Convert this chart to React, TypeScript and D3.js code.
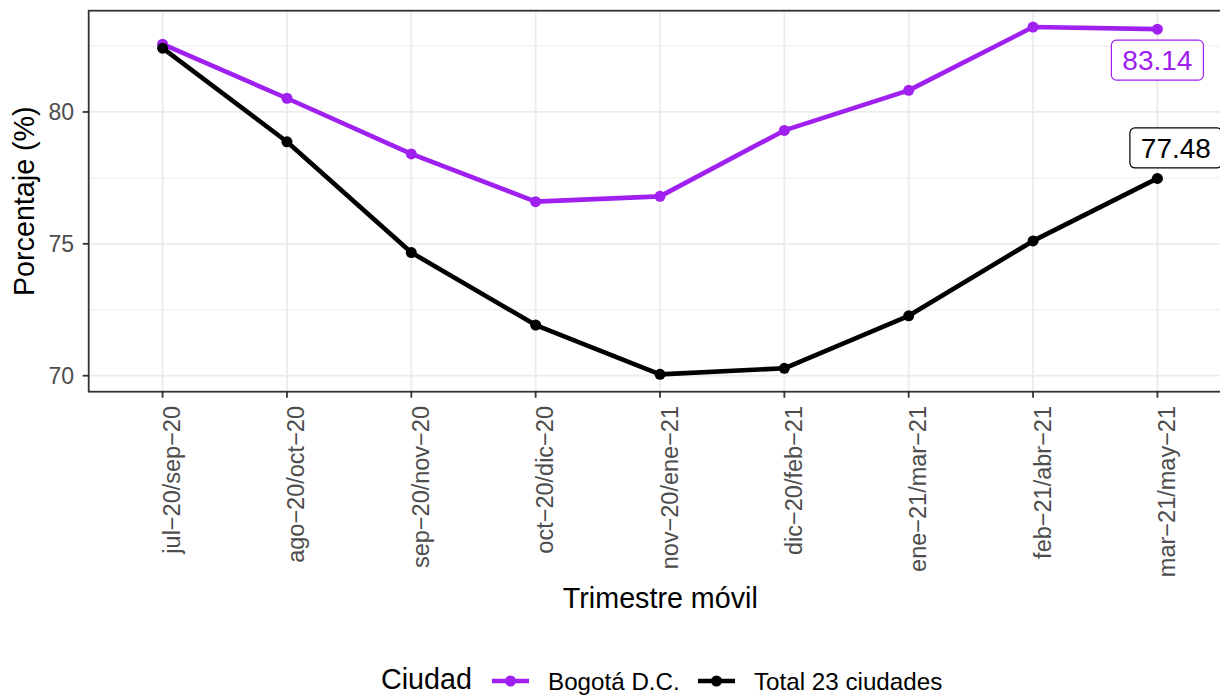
import React from "react";
import * as d3 from "d3";

// trimestres móviles (eje x)
const periods = [
  "jul−20/sep−20",
  "ago−20/oct−20",
  "sep−20/nov−20",
  "oct−20/dic−20",
  "nov−20/ene−21",
  "dic−20/feb−21",
  "ene−21/mar−21",
  "feb−21/abr−21",
  "mar−21/may−21",
];

const bogotaValues = [82.57, 80.52, 78.41, 76.6, 76.8, 79.3, 80.82, 83.22, 83.14];
const totalValues = [82.42, 78.87, 74.67, 71.92, 70.05, 70.28, 72.27, 75.11, 77.48];

const yTicks = [70, 75, 80];
const yMinorTicks = [72.5, 77.5, 82.5];

const series = [
  { name: "Bogotá D.C.", color: "#A020F0", values: bogotaValues, labelDy: 31, labelDx: 0 },
  { name: "Total 23 ciudades", color: "#000000", values: totalValues, labelDy: -30.5, labelDx: 18.5 },
];

const W = 1220;
const H = 695;
const panel = { left: 88.7, right: 1232, top: 10.7, bottom: 391.7 };
const font = "'Liberation Sans', Arial, Helvetica, sans-serif";

const App = () => {
  const x = d3
    .scalePoint<string>()
    .domain(periods)
    .range([162.6, 1157.4]);
  const y = d3.scaleLinear().domain([69.393, 83.84]).range([panel.bottom, panel.top]);

  const line = d3
    .line<number>()
    .x((_, i) => x(periods[i])!)
    .y((d) => y(d));

  const last = periods.length - 1;

  return (
    <svg
      width={W}
      height={H}
      style={{ position: "absolute", left: 0, top: 0, fontFamily: font }}
    >
      <rect width={W} height={H} fill="#fff" />

      {/* minor grid */}
      {yMinorTicks.map((t) => (
        <line key={"mn" + t} x1={panel.left} x2={panel.right} y1={y(t)} y2={y(t)} stroke="#EBEBEB" strokeWidth={1} />
      ))}
      {/* major grid */}
      {yTicks.map((t) => (
        <line key={"mj" + t} x1={panel.left} x2={panel.right} y1={y(t)} y2={y(t)} stroke="#EBEBEB" strokeWidth={1.8} />
      ))}
      {periods.map((p) => (
        <line key={"vg" + p} x1={x(p)} x2={x(p)} y1={panel.top} y2={panel.bottom} stroke="#EBEBEB" strokeWidth={1.8} />
      ))}

      {/* series */}
      {series.map((s) => (
        <g key={s.name}>
          <path d={line(s.values)!} fill="none" stroke={s.color} strokeWidth={4.6} strokeLinejoin="round" />
          {s.values.map((v, i) => (
            <circle key={i} cx={x(periods[i])} cy={y(v)} r={5.5} fill={s.color} />
          ))}
        </g>
      ))}

      {/* last-value labels */}
      {series.map((s) => {
        const v = s.values[last];
        const cx = x(periods[last])! + s.labelDx;
        const cy = y(v) + s.labelDy;
        const bw = 92;
        const bh = 40;
        return (
          <g key={"lab" + s.name}>
            <rect
              x={cx - bw / 2}
              y={cy - bh / 2}
              width={bw}
              height={bh}
              rx={5}
              fill="#fff"
              stroke={s.color}
              strokeWidth={1.2}
            />
            <text x={cx} y={cy + 10} textAnchor="middle" fontSize={28} fill={s.color}>
              {v.toFixed(2)}
            </text>
          </g>
        );
      })}

      {/* panel border */}
      <rect
        x={panel.left}
        y={panel.top}
        width={panel.right - panel.left}
        height={panel.bottom - panel.top}
        fill="none"
        stroke="#333333"
        strokeWidth={1.8}
      />

      {/* y axis */}
      {yTicks.map((t) => (
        <g key={"yt" + t}>
          <line x1={panel.left - 6} x2={panel.left} y1={y(t)} y2={y(t)} stroke="#333333" strokeWidth={1.8} />
          <text x={74} y={y(t) + 8.3} textAnchor="end" fontSize={23} fill="#4D4D4D">
            {t}
          </text>
        </g>
      ))}

      {/* x axis */}
      {periods.map((p) => (
        <g key={"xt" + p}>
          <line x1={x(p)} x2={x(p)} y1={panel.bottom} y2={panel.bottom + 6} stroke="#333333" strokeWidth={1.8} />
          <text
            transform={`translate(${x(p)! + 17.5},${406}) rotate(-90)`}
            textAnchor="end"
            fontSize={23.5}
            fill="#4D4D4D"
          >
            {p}
          </text>
        </g>
      ))}

      {/* axis titles */}
      <text x={(panel.left + panel.right) / 2} y={608} textAnchor="middle" fontSize={28.7} fill="#000">
        Trimestre móvil
      </text>
      <text
        transform={`translate(33.5,${(panel.top + panel.bottom) / 2}) rotate(-90)`}
        textAnchor="middle"
        fontSize={28.7}
        fill="#000"
      >
        Porcentaje (%)
      </text>

      {/* legend */}
      <text x={381} y={689} fontSize={28.7} fill="#000">
        Ciudad
      </text>
      {series.map((s, i) => {
        const kx = i === 0 ? 492 : 698;
        return (
          <g key={"lg" + s.name}>
            <line x1={kx} x2={kx + 37} y1={681} y2={681} stroke={s.color} strokeWidth={4.6} />
            <circle cx={kx + 18.5} cy={681} r={5.5} fill={s.color} />
            <text x={kx + 56} y={690} fontSize={24.2} fill="#000">
              {s.name}
            </text>
          </g>
        );
      })}
    </svg>
  );
};

export default App;
